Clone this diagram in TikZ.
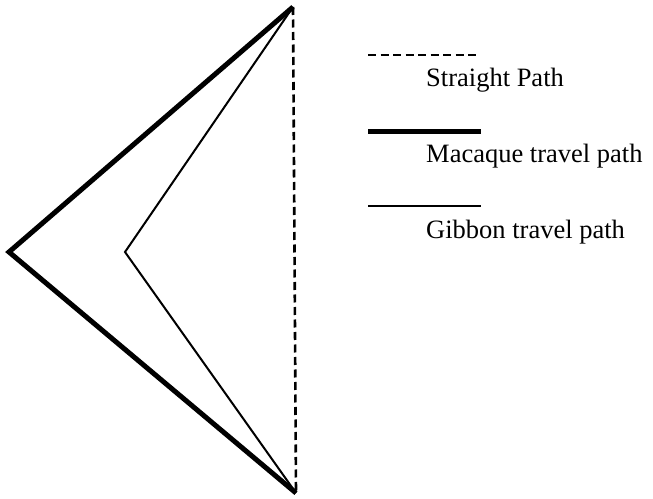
\documentclass[tikz,border=0pt]{standalone}
\usepackage{fontspec}
\setmainfont{Liberation Serif}
\usepackage{tikz}
\usetikzlibrary{positioning}
\tikzset{
  straightline/.style={line width=2.6pt, dash pattern=on 8pt off 4.5pt},
  macaqueline/.style={line width=5pt},
  gibbonline/.style={line width=2pt},
  legendtext/.style={anchor=base west, inner sep=0pt, font=\fontsize{26.5}{30}\selectfont}
}
\begin{document}
\begin{tikzpicture}[x=1pt, y=-1pt]
  \useasboundingbox (0,0) rectangle (653,498);
  % path end points
  \coordinate (top) at (293,7);
  \coordinate (bot) at (296,493);
  \coordinate (mac) at (9,252);
  \coordinate (gib) at (125,252);
  \draw[straightline] (top) -- (bot);
  \draw[macaqueline] (top) -- (mac) -- (bot);
  \draw[gibbonline] (top) -- (gib) -- (bot);
  % legend
  \coordinate (sA) at (368,55);  \coordinate (sB) at (480,55);
  \coordinate (mA) at (368,131); \coordinate (mB) at (481,131);
  \coordinate (gA) at (368,206); \coordinate (gB) at (481,206);
  \draw[straightline] (sA) -- (sB);
  \draw[macaqueline] (mA) -- (mB);
  \draw[gibbonline] (gA) -- (gB);
  \node[legendtext] (lblStraight) at (426,86) {Straight Path};
  \node[legendtext] (lblMacaque) at (426,162) {Macaque travel path};
  \node[legendtext] (lblGibbon) at (426,238) {Gibbon travel path};
\end{tikzpicture}
\end{document}
